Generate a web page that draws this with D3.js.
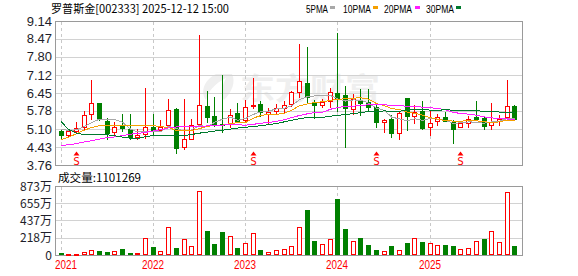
<!DOCTYPE html>
<html><head><meta charset="utf-8">
<script src="https://cdn.jsdelivr.net/npm/d3@7/dist/d3.min.js"></script>
<style>body{margin:0;background:#fff}svg{display:block}</style>
</head><body>
<script>
// ---------- data (monthly K-line, 罗普斯金 002333) ----------
const months = ["2021-01","2021-02","2021-03","2021-04","2021-05","2021-06","2021-07","2021-08","2021-09","2021-10","2021-11","2021-12",
"2022-01","2022-02","2022-03","2022-04","2022-05","2022-06","2022-07","2022-08","2022-09","2022-10","2022-11","2022-12",
"2023-01","2023-02","2023-03","2023-04","2023-05","2023-06","2023-07","2023-08","2023-09","2023-10","2023-11","2023-12",
"2024-01","2024-02","2024-03","2024-04","2024-05","2024-06","2024-07","2024-08","2024-09","2024-10","2024-11","2024-12",
"2025-01","2025-02","2025-03","2025-04","2025-05","2025-06","2025-07","2025-08","2025-09","2025-10","2025-11","2025-12"];
const open  = [5.04,4.87,5.04,5.17,5.67,6.07,5.39,5.00,5.22,5.12,4.82,4.92,5.19,5.07,5.24,5.86,4.44,4.72,5.29,5.96,5.59,5.29,5.32,5.71,5.44,5.99,6.04,5.66,5.77,5.89,6.04,6.49,6.81,6.07,6.01,6.16,6.46,6.36,5.86,6.19,6.11,5.92,5.37,5.47,4.97,6.25,5.59,5.79,5.17,5.39,5.54,5.38,5.19,5.32,5.57,5.52,5.27,5.41,5.57,5.96];
const high  = [5.10,5.10,5.36,5.79,6.94,6.08,5.52,5.35,5.67,5.67,5.09,6.64,5.68,5.43,6.21,5.89,6.24,5.49,8.63,6.54,6.29,7.12,5.84,6.07,6.19,7.01,6.14,5.90,6.05,6.16,6.53,8.28,8.16,6.19,6.24,6.64,8.70,6.71,6.41,6.61,6.61,6.04,5.49,5.62,5.74,6.27,5.99,6.16,5.81,5.67,5.74,5.45,5.42,5.59,6.16,5.56,6.09,5.63,6.94,5.99];
const low   = [4.72,4.80,4.98,5.12,5.47,5.45,4.72,4.87,5.04,4.73,4.74,4.76,4.90,5.02,5.19,4.22,4.35,4.72,5.22,5.37,5.22,4.98,5.19,5.37,5.39,5.90,5.59,5.32,5.68,5.72,5.97,6.29,6.11,5.52,5.92,5.91,5.79,4.42,5.66,5.62,5.78,5.19,5.00,4.79,4.74,5.08,5.32,5.09,4.87,5.27,5.40,4.59,5.17,5.17,5.46,5.12,5.12,5.26,5.49,5.49];
const close = [4.89,5.04,5.14,5.62,6.07,5.47,4.97,5.17,5.14,4.79,4.87,5.19,5.02,5.17,5.81,4.40,4.74,5.24,5.99,5.57,5.28,5.26,5.64,5.42,5.92,6.01,5.74,5.75,5.89,5.99,6.49,6.89,6.29,6.02,6.11,6.49,6.26,5.89,6.21,6.07,5.92,5.37,5.44,4.97,5.69,5.60,5.74,5.14,5.32,5.54,5.42,5.10,5.32,5.47,5.49,5.22,5.37,5.48,5.96,5.49];
// volume in 万股
const volume = [25,9,9,38,63,51,38,51,76,25,25,211,101,51,350,89,198,110,806,300,139,291,236,89,148,274,63,34,59,72,110,350,569,177,139,198,708,329,177,215,127,63,46,114,59,152,211,164,152,122,127,114,72,84,177,202,300,164,793,110];
const ma5  = [5.08,5.06,5.07,5.19,5.35,5.47,5.45,5.46,5.36,5.11,4.99,5.03,5.00,5.01,5.21,5.12,5.03,5.07,5.24,5.19,5.36,5.47,5.55,5.43,5.50,5.65,5.75,5.77,5.86,5.88,5.97,6.20,6.31,6.34,6.36,6.36,6.23,6.15,6.19,6.18,6.07,5.89,5.80,5.55,5.48,5.41,5.49,5.43,5.50,5.47,5.43,5.31,5.34,5.37,5.36,5.32,5.37,5.40,5.50,5.50];
const ma10 = [4.71,4.80,4.93,5.06,5.16,5.23,5.24,5.24,5.24,5.23,5.23,5.24,5.23,5.19,5.16,5.05,5.03,5.04,5.12,5.20,5.24,5.25,5.31,5.34,5.35,5.51,5.61,5.66,5.65,5.69,5.81,5.97,6.04,6.10,6.12,6.17,6.22,6.23,6.26,6.27,6.22,6.06,5.98,5.87,5.83,5.74,5.69,5.62,5.53,5.47,5.42,5.40,5.39,5.44,5.41,5.38,5.34,5.37,5.44,5.43];
const ma20 = [4.50,4.51,4.56,4.62,4.67,4.73,4.78,4.81,4.86,4.91,4.94,4.98,5.03,5.08,5.15,5.18,5.18,5.19,5.20,5.22,5.23,5.25,5.27,5.26,5.25,5.28,5.32,5.35,5.39,5.45,5.53,5.61,5.67,5.72,5.73,5.84,5.91,5.95,5.96,5.98,6.01,6.02,6.01,5.99,5.98,5.95,5.95,5.92,5.90,5.87,5.82,5.73,5.68,5.66,5.62,5.56,5.52,5.49,5.48,5.45];
const ma30 = [5.39,5.08,4.95,4.90,4.89,4.89,4.89,4.85,4.80,4.76,4.75,4.82,4.86,4.87,4.87,4.85,4.86,4.90,4.95,4.99,5.03,5.06,5.10,5.14,5.17,5.20,5.23,5.27,5.31,5.37,5.43,5.49,5.53,5.54,5.54,5.58,5.62,5.64,5.68,5.72,5.76,5.76,5.78,5.77,5.77,5.81,5.84,5.84,5.81,5.81,5.82,5.81,5.80,5.80,5.79,5.76,5.75,5.74,5.74,5.73];
const maNames  = ["5PMA","10PMA","20PMA","30PMA"];
const maColors = ["#a8a8a8","#f5a000","#ff1cff","#007a2e"];
const priceTicks = [9.14,8.47,7.80,7.12,6.45,5.78,5.10,4.43,3.76];
const volTicks = [873,655,437,218,0];
const volTickLabels = ["873万","655万","437万","218万","0"];
const yearLabels = ["2021","2022","2023","2024","2025"];
const yearMonths = ["2021-01","2022-01","2023-01","2024-01","2025-01"];
const signalMonths = ["2021-03","2023-02","2024-06","2025-05"];
const title = "罗普斯金[002333] 2025-12-12 15:00";
const volTitle = "成交量:1101269";

// ---------- layout ----------
const W = 578, H = 276;
const L = 55, R = 522, pT = 21, pB = 165, vT = 186, vB = 255;
const RED = "#ff0000", GREEN = "#008000", GRID = "#d2d2d2", FRAME = "#9a9a9a";
const svg = d3.select("body").append("svg").attr("width", W).attr("height", H)
  .style("font-family", "'Liberation Sans', Arial, sans-serif");
svg.append("rect").attr("width", W).attr("height", H).attr("fill", "#fff");

const x = d3.scalePoint().domain(months).range([60.5, 514.3]);
const y = d3.scaleLinear().domain([3.76, 9.14]).range([pB, pT]);
const yv = d3.scaleLinear().domain([0, 873]).range([vB, vT]);
const px = m => Math.round(x(m));
const cj = "'Noto Sans CJK SC','Noto Sans',sans-serif";

// watermark
const wm = svg.append("g").attr("fill", "#efefef");
wm.append("path").attr("d", "M216,74 C204,80 200,92 206,100 C208,92 214,84 226,78 C222,86 220,94 224,100 C232,92 236,82 232,74 Z");
wm.append("text").attr("x", 240).attr("y", 99).attr("font-family", cj).attr("font-size", 30).attr("font-weight", 700)
  .attr("textLength", 140).attr("lengthAdjust", "spacingAndGlyphs").text("东方财富");

// ---------- grids ----------
const grid = svg.append("g").attr("shape-rendering", "crispEdges");
priceTicks.forEach(t => {
  const yy = Math.round(y(t)) + 0.5;
  grid.append("line").attr("x1", L).attr("x2", R).attr("y1", yy).attr("y2", yy).attr("stroke", GRID);
});
volTicks.forEach(t => {
  const yy = Math.round(yv(t)) + 0.5;
  grid.append("line").attr("x1", L).attr("x2", R).attr("y1", yy).attr("y2", yy).attr("stroke", GRID);
});
yearMonths.forEach(m => {
  const xx = px(m) + 0.5;
  [[pT, pB], [vT, vB]].forEach(([a, b]) =>
    grid.append("line").attr("x1", xx).attr("x2", xx).attr("y1", a + 1).attr("y2", b)
      .attr("stroke", "#c8c8c8").attr("stroke-dasharray", "3,3"));
});
[[pT, pB], [vT, vB]].forEach(([a, b]) => {
  grid.append("rect").attr("x", L + 0.5).attr("y", Math.round(a) + 0.5).attr("width", R - L).attr("height", b - a)
    .attr("fill", "none").attr("stroke", FRAME);
});

// ---------- axis labels ----------
const ax = svg.append("g").attr("fill", "#1e1e2a").attr("font-size", 13).attr("text-anchor", "end");
priceTicks.forEach(t => ax.append("text").attr("x", 52).attr("y", y(t) + 4.5).text(t.toFixed(2)));
volTicks.forEach((t, i) => ax.append("text").attr("x", 52).attr("y", yv(t) + 4.5)
  .attr("font-size", 12).attr("font-family", cj).text(volTickLabels[i]));
yearMonths.forEach((m, i) => {
  svg.append("text").attr("x", Math.max(55, px(m) - 11)).attr("y", 269).attr("fill", RED)
    .attr("font-size", 12).attr("textLength", 22).attr("lengthAdjust", "spacingAndGlyphs").text(yearLabels[i]);
});

// ---------- candles ----------
const cg = svg.append("g").attr("shape-rendering", "crispEdges");
months.forEach((m, i) => {
  const cx = px(m);
  const up = close[i] >= open[i];
  const col = up ? RED : GREEN;
  const yo = Math.round(y(open[i])), yc = Math.round(y(close[i]));
  const top = Math.min(yo, yc), bot = Math.max(yo, yc);
  cg.append("line").attr("x1", cx + 0.5).attr("x2", cx + 0.5)
    .attr("y1", Math.round(y(high[i]))).attr("y2", Math.round(y(low[i])) + 1).attr("stroke", col);
  if (up) {
    cg.append("rect").attr("x", cx - 1.5).attr("y", top + 0.5).attr("width", 4).attr("height", Math.max(1, bot - top))
      .attr("fill", "#fff").attr("stroke", col);
  } else {
    cg.append("rect").attr("x", cx - 2).attr("y", top).attr("width", 5).attr("height", Math.max(1, bot - top + 1))
      .attr("fill", col);
  }
});

// ---------- volume ----------
const vg = svg.append("g").attr("shape-rendering", "crispEdges");
months.forEach((m, i) => {
  const cx = px(m);
  const up = i === 0 ? close[i] >= open[i] : close[i] >= close[i - 1];
  const yt = Math.round(yv(volume[i]));
  if (up) {
    vg.append("rect").attr("x", cx - 1.5).attr("y", yt + 0.5).attr("width", 4).attr("height", Math.max(1, vB - 1 - yt))
      .attr("fill", "#fff").attr("stroke", RED);
  } else {
    vg.append("rect").attr("x", cx - 2).attr("y", yt).attr("width", 5).attr("height", Math.max(1, vB - yt))
      .attr("fill", GREEN);
  }
});

// ---------- moving averages ----------
const line = d3.line().x((d, i) => x(months[i]) + 0.5).y(d => y(d));
[ma5, ma10, ma20, ma30].forEach((s, k) => {
  svg.append("path").datum(s).attr("d", line).attr("fill", "none").attr("stroke", maColors[k])
    .attr("stroke-width", 1).attr("shape-rendering", "crispEdges");
});

// ---------- signal markers ----------
signalMonths.forEach(m => {
  const cx = px(m) + 0.5;
  svg.append("path").attr("d", `M${cx - 3},${155.5} L${cx},${151.5} L${cx + 3},${155.5} Z`).attr("fill", RED);
  svg.append("text").attr("x", cx).attr("y", 165).attr("text-anchor", "middle").attr("fill", RED)
    .attr("font-size", 11).attr("font-family", "'DejaVu Sans Mono',monospace").text("S");
});

// ---------- header & legend ----------
svg.append("text").attr("x", 51).attr("y", 12.5).attr("font-size", 11.5).attr("font-family", cj).attr("fill", "#000")
  .attr("textLength", 178).attr("lengthAdjust", "spacingAndGlyphs").text(title);
const legX = [306, 343, 384, 426], legW = [22, 28, 28, 28], swX = [330, 373, 415, 456];
maNames.forEach((n, k) => {
  svg.append("text").attr("x", legX[k]).attr("y", 12.5).attr("font-size", 11).attr("fill", "#000")
    .attr("textLength", legW[k]).attr("lengthAdjust", "spacingAndGlyphs").text(n);
  svg.append("rect").attr("x", swX[k]).attr("y", 6).attr("width", 5).attr("height", 3).attr("fill", maColors[k]);
});
svg.append("text").attr("x", 58).attr("y", 181.5).attr("font-size", 11.5).attr("font-family", cj).attr("fill", "#000")
  .attr("textLength", 83).attr("lengthAdjust", "spacingAndGlyphs").text(volTitle);
</script>
</body></html>
